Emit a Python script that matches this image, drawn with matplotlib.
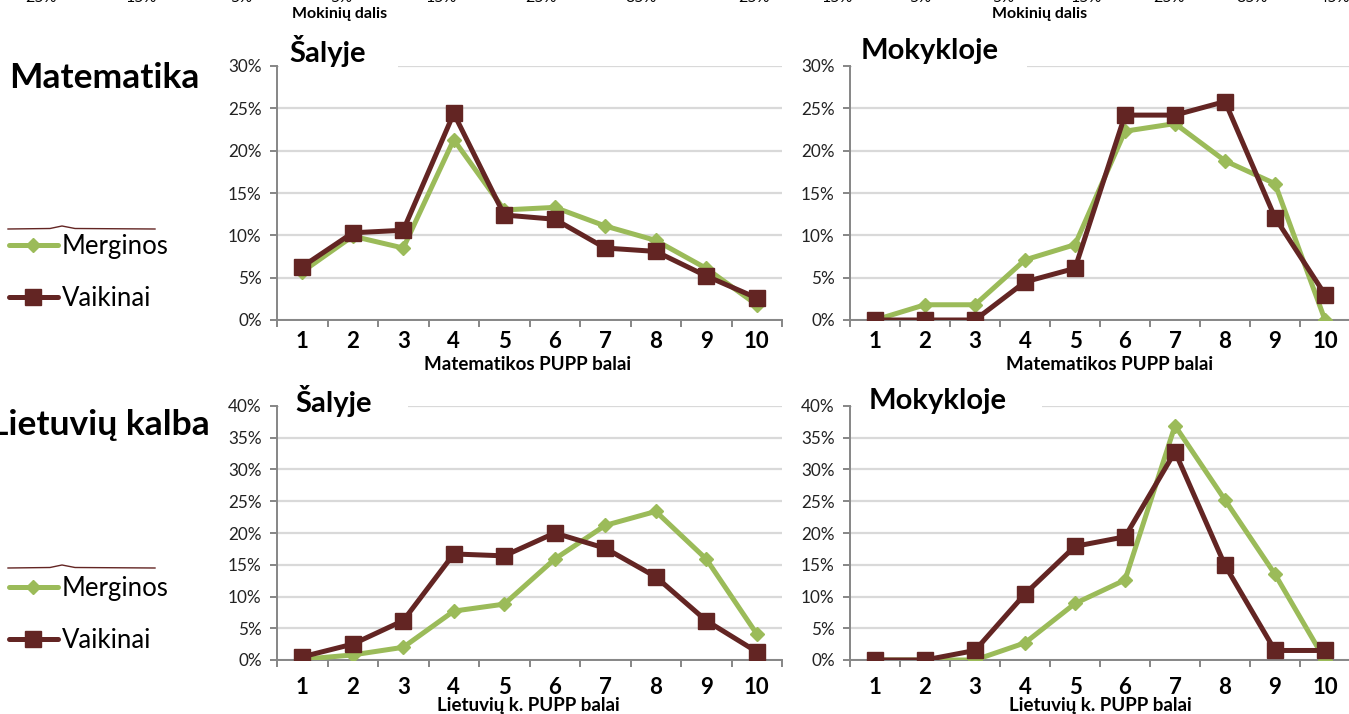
import matplotlib
matplotlib.use("Agg")
import matplotlib.pyplot as plt
from matplotlib.lines import Line2D
from matplotlib.patches import Rectangle

plt.rcParams['font.family'] = ['Lato', 'DejaVu Sans']

# --- DATA
scores = [1, 2, 3, 4, 5, 6, 7, 8, 9, 10]
series_names = ["Merginos", "Vaikinai"]

mat_salyje_merginos = [5.7, 9.9, 8.5, 21.3, 13.0, 13.3, 11.1, 9.4, 6.1, 1.8]
mat_salyje_vaikinai = [6.3, 10.3, 10.6, 24.4, 12.4, 11.9, 8.5, 8.1, 5.2, 2.6]
mat_mokykloje_merginos = [0.0, 1.8, 1.8, 7.1, 8.9, 22.3, 23.2, 18.8, 16.1, 0.0]
mat_mokykloje_vaikinai = [0.0, 0.0, 0.0, 4.5, 6.1, 24.2, 24.2, 25.8, 12.1, 3.0]

lt_salyje_merginos = [0.1, 0.8, 2.0, 7.7, 8.8, 15.9, 21.2, 23.4, 15.9, 4.1]
lt_salyje_vaikinai = [0.5, 2.5, 6.2, 16.7, 16.4, 20.0, 17.6, 13.1, 6.2, 1.3]
lt_mokykloje_merginos = [0.0, 0.0, 0.0, 2.7, 8.9, 12.6, 36.9, 25.2, 13.5, 0.0]
lt_mokykloje_vaikinai = [0.0, 0.0, 1.5, 10.4, 17.9, 19.4, 32.8, 14.9, 1.5, 1.5]

# cut-off tick labels of the charts above (only their bottoms are visible)
top_ticks_left = ["25%", "15%", "5%", "5%", "15%", "25%", "35%"]
top_ticks_right = ["25%", "15%", "5%", "5%", "15%", "25%", "35%", "45%"]

GREEN = "#9BBB59"
DARK = "#632523"
GRID = "#D9D9D9"
AXIS = "#868686"

W, H = 1349, 714
fig = plt.figure(figsize=(W / 100, H / 100), dpi=100)


def rect(l, t, r, b):
    return [l / W, 1 - b / H, (r - l) / W, (b - t) / H]


def fx(x):
    return x / W


def fy(y):
    return 1 - y / H


def draw_panel(ax, girls, boys, ymax, title, title_x, title_y, gap, xpad):
    ax.plot(scores, girls, color=GREEN, lw=3.6, marker="D", ms=7,
            mfc=GREEN, mec=GREEN, solid_capstyle="round", zorder=3)
    ax.plot(scores, boys, color=DARK, lw=3.6, marker="s", ms=11,
            mfc=DARK, mec=DARK, solid_capstyle="round", zorder=4)
    ax.set_xlim(0.5, 10.5)
    ax.set_ylim(0, ymax)
    yt = list(range(0, ymax + 1, 5))
    ax.set_yticks(yt)
    ax.set_yticklabels(["%d%%" % v for v in yt], fontsize=12.3, color="#222222")
    ax.yaxis.grid(True, color=GRID, lw=1.6)
    ax.set_axisbelow(True)
    for s in ["top", "right"]:
        ax.spines[s].set_visible(False)
    for s in ["left", "bottom"]:
        ax.spines[s].set_color(AXIS)
        ax.spines[s].set_linewidth(1.4)
    ax.set_xticks(scores)
    ax.set_xticklabels([str(s) for s in scores], fontsize=16, fontweight="bold")
    ax.set_xticks([x + 0.5 for x in range(0, 11)], minor=True)
    ax.tick_params(axis="x", which="major", length=0, pad=xpad)
    ax.tick_params(axis="x", which="minor", length=5, width=1.4, color=AXIS)
    ax.tick_params(axis="y", length=5, width=1.4, color=AXIS, pad=6)
    # white box behind the title that hides the top gridline
    ax.add_patch(Rectangle((0.004, 0.97), gap, 0.1, transform=ax.transAxes,
                           facecolor="white", edgecolor="none", zorder=2,
                           clip_on=False))
    ax.text(title_x, title_y, title, transform=ax.transAxes, fontsize=21,
            fontweight="bold", va="center", ha="left", zorder=5)


ax1 = fig.add_axes(rect(277, 66, 782, 320))
ax2 = fig.add_axes(rect(850, 66, 1350, 320))
ax3 = fig.add_axes(rect(277, 406, 782, 660))
ax4 = fig.add_axes(rect(850, 406, 1350, 660))

draw_panel(ax1, mat_salyje_merginos, mat_salyje_vaikinai, 30, "Šalyje",
           0.024, 1.06, 0.235, 8)
draw_panel(ax2, mat_mokykloje_merginos, mat_mokykloje_vaikinai, 30, "Mokykloje",
           0.022, 1.06, 0.35, 8)
draw_panel(ax3, lt_salyje_merginos, lt_salyje_vaikinai, 40, "Šalyje",
           0.036, 1.02, 0.255, 12)
draw_panel(ax4, lt_mokykloje_merginos, lt_mokykloje_vaikinai, 40, "Mokykloje",
           0.038, 1.02, 0.38, 12)

# --- AXIS TITLES
for x, y, txt in ((528, 364, "Matematikos PUPP balai"),
                  (1110, 364, "Matematikos PUPP balai"),
                  (528, 706, "Lietuvių k. PUPP balai"),
                  (1100, 706, "Lietuvių k. PUPP balai")):
    fig.text(fx(x), fy(y), txt, fontsize=13.5, fontweight="bold",
             ha="center", va="center")

# --- ROW LABELS
fig.text(fx(104), fy(78), "Matematika", fontsize=25.5, fontweight="bold",
         ha="center", va="center")
fig.text(fx(100), fy(425), "Lietuvių kalba", fontsize=25.5, fontweight="bold",
         ha="center", va="center")

# --- REMAINS OF THE CHARTS ABOVE
fig.text(fx(340), fy(14), "Mokinių dalis", fontsize=11.5, fontweight="bold",
         ha="center", va="center")
fig.text(fx(1040), fy(14), "Mokinių dalis", fontsize=11.5, fontweight="bold",
         ha="center", va="center")
for i, lab in enumerate(top_ticks_left):
    fig.text(fx(41 + i * 100), fy(2), lab, fontsize=11.5, ha="center",
             va="baseline")
for i, lab in enumerate(top_ticks_right):
    fig.text(fx(754 + i * 83), fy(2), lab, fontsize=11.5, ha="center",
             va="baseline")

# thin fragments above the legends
for y0 in (229, 568):
    fig.add_artist(Line2D([fx(8), fx(50), fx(62), fx(75), fx(155)],
                          [fy(y0), fy(y0 - 0.5), fy(y0 - 3), fy(y0 - 0.5), fy(y0)],
                          color=DARK, lw=1.0))

# --- LEGENDS
for ax, ytop in ((ax1, 234), (ax3, 576)):
    handles = ax.get_lines()[:2]
    fig.legend(handles, series_names, loc="upper left",
               bbox_to_anchor=(fx(9), fy(ytop)), frameon=False, fontsize=18.5,
               handlelength=1.9, handletextpad=0.15, labelspacing=1.05,
               borderpad=0, borderaxespad=0)

fig.savefig("out.png", dpi=100)
